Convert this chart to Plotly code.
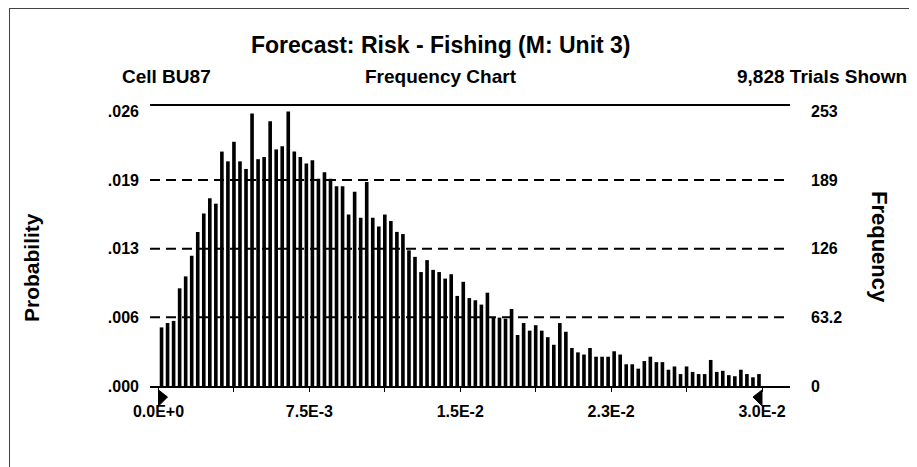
import plotly.graph_objects as go

# ---------------- data ----------------
bin_width = 0.0003
counts = [54, 58, 60, 90, 101, 120, 142, 159, 173, 168,
          216, 207, 225, 207, 200, 251, 209, 211, 244, 218,
          221, 253, 216, 211, 205, 208, 191, 197, 191, 184,
          184, 158, 179, 155, 188, 155, 147, 158, 152, 142,
          140, 125, 119, 105, 116, 107, 105, 99, 103, 83,
          96, 81, 79, 75, 86, 63, 63, 62, 71, 47,
          58, 51, 56, 51, 45, 38, 58, 50, 35, 31,
          29, 35, 27, 27, 27, 32, 29, 20, 20, 16,
          23, 27, 22, 22, 15, 18, 11, 18, 13, 11,
          11, 24, 13, 14, 10, 9, 15, 11, 8, 11]
bin_centers = [bin_width * (i + 0.5) for i in range(len(counts))]

y_tickvals = [0, 63.25, 126.5, 189.75, 253]
prob_labels = [".000", ".006", ".013", ".019", ".026"]
freq_labels = ["0", "63.2", "126", "189", "253"]
grid_vals = [63.25, 126.5, 189.75]

x_tickvals = [0, 0.0075, 0.015, 0.0225, 0.03]
x_ticktext = ["0.0E+0", "7.5E-3", "1.5E-2", "2.3E-2", "3.0E-2"]

title_text = "Forecast: Risk - Fishing (M: Unit 3)"
cell_text = "Cell BU87"
chart_text = "Frequency Chart"
trials_text = "9,828 Trials Shown"

# ---------------- layout geometry ----------------
OFF = 8                      # page body margin
WIN_W, WIN_H = 917, 467
W, H = WIN_W - OFF, WIN_H - OFF
# plot area in window pixels
WL, WR, WT, WB = 150, 790, 106, 386
L, R, T, B = WL - OFF, WR - OFF, WT - OFF, WB - OFF
FONT = "Liberation Sans, Arial, sans-serif"
Y_RANGE = [0, 258]
X_RANGE = [-0.000423, 0.031392]


def px(xw):
    return (xw - OFF - L) / (R - L)


def py(yw):
    return (B - (yw - OFF)) / (B - T)


def xdata_to_paper(v):
    return (v - X_RANGE[0]) / (X_RANGE[1] - X_RANGE[0])


fig = go.Figure()
fig.add_trace(go.Bar(x=bin_centers, y=counts, marker=dict(color="black", line=dict(width=0)),
                     width=bin_width * 0.6, hoverinfo="skip"))
fig.add_trace(go.Scatter(x=[None], y=[None], yaxis="y2", showlegend=False))

shapes = []
for g in grid_vals:
    shapes.append(dict(type="line", xref="paper", yref="y", x0=0, x1=1, y0=g, y1=g,
                       line=dict(color="black", width=2, dash="10px,6px"), layer="below"))

# range markers (triangles) just below the axis at the range ends
ppx = 1.0 / (R - L)
ppy = 1.0 / (B - T)
x_lo = xdata_to_paper(x_tickvals[0])
x_hi = xdata_to_paper(x_tickvals[-1])
y_a, y_b, y_m = -4 * ppy, -20 * ppy, -11 * ppy
shapes.append(dict(type="path", xref="paper", yref="paper",
                   path=f"M {x_lo} {y_a} L {x_lo} {y_b} L {x_lo + 9 * ppx} {y_m} Z",
                   fillcolor="black", line=dict(color="black", width=1)))
shapes.append(dict(type="path", xref="paper", yref="paper",
                   path=f"M {x_hi} {y_a} L {x_hi} {y_b} L {x_hi - 9 * ppx} {y_m} Z",
                   fillcolor="black", line=dict(color="black", width=1)))

# outer scan border
shapes.append(dict(type="line", xref="paper", yref="paper", x0=px(9), x1=px(917), y0=py(8.5), y1=py(8.5),
                   line=dict(color="#444", width=1)))
shapes.append(dict(type="line", xref="paper", yref="paper", x0=px(9.5), x1=px(9.5), y0=py(8), y1=py(467),
                   line=dict(color="#444", width=1)))

hdr = dict(family=FONT, size=19, color="black", weight="bold")
annotations = [
    dict(text=title_text, x=px(441), y=py(45), xref="paper", yref="paper", showarrow=False,
         xanchor="center", yanchor="middle", font=dict(hdr, size=23)),
    dict(text=cell_text, x=px(120), y=py(77), xref="paper", yref="paper", showarrow=False,
         xanchor="left", yanchor="middle", font=hdr),
    dict(text=chart_text, x=px(441), y=py(77), xref="paper", yref="paper", showarrow=False,
         xanchor="center", yanchor="middle", font=hdr),
    dict(text=trials_text, x=px(909), y=py(77), xref="paper", yref="paper", showarrow=False,
         xanchor="right", yanchor="middle", font=hdr),
    dict(text="Probability", x=px(31), y=py(268), xref="paper", yref="paper", showarrow=False,
         xanchor="center", yanchor="middle", textangle=-90, font=dict(hdr, size=21)),
    dict(text="Frequency", x=px(880), y=py(247), xref="paper", yref="paper", showarrow=False,
         xanchor="center", yanchor="middle", textangle=90, font=dict(hdr, size=22)),
]

tickfont = dict(family=FONT, size=16, color="black", weight="bold")
fig.update_layout(
    width=W, height=H,
    margin=dict(l=L, r=W - R, t=T, b=H - B, pad=0),
    paper_bgcolor="white", plot_bgcolor="white",
    showlegend=False,
    xaxis=dict(range=X_RANGE, tickvals=x_tickvals, ticktext=x_ticktext,
               tickfont=tickfont, ticks="outside", ticklen=4, tickcolor="black", tickwidth=1,
               minor=dict(dtick=0.00375, tick0=0, ticks="outside", ticklen=4, tickcolor="black"),
               showgrid=False, zeroline=False, showline=True, linecolor="black", linewidth=2,
               mirror=True, ticklabelstandoff=6),
    yaxis=dict(range=Y_RANGE, tickvals=y_tickvals, ticktext=prob_labels, tickfont=tickfont,
               showgrid=False, zeroline=False, showline=False, ticks="", ticklabelstandoff=10),
    yaxis2=dict(range=Y_RANGE, tickvals=y_tickvals, ticktext=freq_labels, tickfont=tickfont,
                overlaying="y", side="right", showgrid=False, zeroline=False, showline=False,
                ticks="", ticklabelstandoff=20),
    shapes=shapes,
    annotations=annotations,
)

fig.write_html("out.html")
